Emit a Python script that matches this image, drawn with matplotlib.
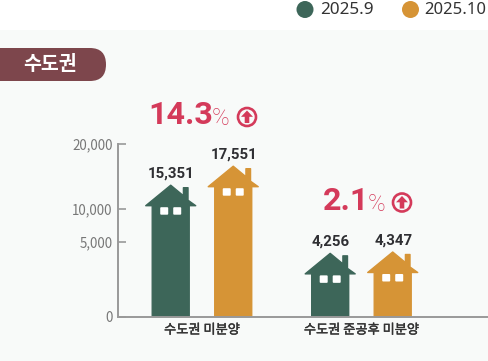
import numpy as np
import matplotlib
matplotlib.use('Agg')
import matplotlib.pyplot as plt
import matplotlib.patheffects as pe
from matplotlib.patches import Circle, FancyBboxPatch, Polygon, Rectangle, PathPatch
from matplotlib.path import Path

categories = ['수도권 미분양', '수도권 준공후 미분양']
series_names = ['2025.9', '2025.10']
values_sep = [15351, 4256]
values_oct = [17551, 4347]
changes = ['14.3', '2.1']
yticks = [0, 5000, 10000, 20000]
# the axis in the picture is not linear, these are its breaks (value -> px above 0)
scale_values = [0, 5000, 10000, 15351, 17551, 20000]
scale_px = [0, 75, 108, 132, 151, 172.5]

GREEN = '#3d6659'
ORANGE = '#d69436'
RED = '#d43a5a'
BG = '#f8faf9'
KR = ['Noto Sans CJK KR', 'DejaVu Sans']

W, H = 488, 361
fig = plt.figure(figsize=(W / 100, H / 100), dpi=100, facecolor='white')

# overlay in pixel coordinates for the decoration
bg = fig.add_axes([0, 0, 1, 1])
bg.set_xlim(0, W)
bg.set_ylim(H, 0)
bg.axis('off')
bg.add_patch(Rectangle((0, 30), W, H - 30, fc=BG, ec='none'))

# chart axes
ax = fig.add_axes([118.3 / W, 1 - 316.7 / H, (W - 118.3) / W, 172.5 / H])
ax.patch.set_alpha(0)
ax.set_yscale('function', functions=(lambda v: np.interp(v, scale_values, scale_px),
                                     lambda p: np.interp(p, scale_px, scale_values)))
ax.set_ylim(0, 20000)
ax.set_xlim(-0.5247, 1.7935)
ax.set_yticks(yticks)
ax.set_yticklabels([f'{t:,}' for t in yticks], family=KR, fontsize=9.6, color='#777777')
ax.minorticks_off()
ax.set_xticks([0, 1])
ax.set_xticklabels(categories, family=KR, fontsize=9.5, color='#333333',
                   path_effects=[pe.withStroke(linewidth=0.3, foreground='#333333')])
ax.tick_params(axis='y', direction='in', length=6, width=1.2, color='#999999', pad=4)
ax.tick_params(axis='x', length=0, pad=5)
for s in ['top', 'right']:
    ax.spines[s].set_visible(False)
for s in ['left', 'bottom']:
    ax.spines[s].set_color('#999999')
    ax.spines[s].set_linewidth(1.4)


def to_px(x, v):
    return bg.transData.inverted().transform(ax.transData.transform((x, v)))


def house(x, value, color):
    cx, top = to_px(x, value)
    _, base = to_px(x, 0)
    eave = top + 21
    pts = [(cx - 18.5, base), (cx - 18.5, eave), (cx - 25, eave), (cx, top + 0.5),
           (cx + 12.7, top + 11), (cx + 12.7, top + 3), (cx + 17.3, top + 3),
           (cx + 17.3, top + 15.5), (cx + 25, eave), (cx + 18.5, eave), (cx + 18.5, base)]
    bg.add_patch(Polygon(pts, closed=True, fc=color, ec=color, lw=1, joinstyle='round', zorder=3))
    for dx in (-6.5, 6.5):
        bg.add_patch(FancyBboxPatch((cx + dx - 3, top + 23.5), 6, 5.5,
                                    boxstyle='round,pad=1', fc='white', ec='none', zorder=4))
    bg.text(cx + 0.5, top - 7, f'{value:,}', family='Roboto', fontweight='bold', fontsize=10.8,
            color='#2f2f33', ha='center', va='baseline', zorder=5)


offset = 0.196
for i in range(len(categories)):
    house(i - offset, values_sep[i], GREEN)
    house(i + offset, values_oct[i], ORANGE)


def up_mark(cx, cy):
    bg.add_patch(Circle((cx, cy), 9, fc='none', ec=RED, lw=1.9, zorder=5))
    pts = [(cx, cy - 6.5), (cx + 6, cy - 0.2), (cx + 2.3, cy - 0.2), (cx + 2.3, cy + 6),
           (cx - 2.3, cy + 6), (cx - 2.3, cy - 0.2), (cx - 6, cy - 0.2)]
    bg.add_patch(Polygon(pts, closed=True, fc=RED, ec='none', zorder=5))


# change labels
bg.text(148.5, 124.5, changes[0], family='Roboto', fontweight='bold', fontsize=23.2, color=RED, va='baseline')
bg.text(212, 125, '%', family='Roboto', fontweight='light', fontsize=17, color=RED, va='baseline')
up_mark(247, 117)
bg.text(322.5, 210, changes[1], family='Roboto', fontweight='bold', fontsize=23.2, color=RED, va='baseline')
bg.text(367.5, 211, '%', family='Roboto', fontweight='light', fontsize=17, color=RED, va='baseline')
up_mark(402, 202.5)

# legend
bg.add_patch(Circle((305, 9.5), 8.5, fc=GREEN, ec='none'))
bg.text(320, 9.5, series_names[0], family='Noto Sans', fontweight='light', fontsize=12.3, color='#333333', va='center')
bg.add_patch(Circle((410.5, 9.5), 8.5, fc=ORANGE, ec='none'))
bg.text(424, 9.5, series_names[1], family='Noto Sans', fontweight='light', fontsize=12, color='#333333', va='center')

# region badge
verts = [(0, 48), (90, 48), (106, 48), (106, 64.5), (106, 81), (90, 81), (0, 81), (0, 48)]
codes = [Path.MOVETO, Path.LINETO, Path.CURVE3, Path.CURVE3, Path.CURVE3, Path.CURVE3, Path.LINETO, Path.CLOSEPOLY]
bg.add_patch(PathPatch(Path(verts, codes), fc='#7d464c', ec='none'))
bg.text(50, 64.5, '수도권', family=KR, fontweight='bold', fontsize=14, color='white', ha='center', va='center')

fig.savefig('out.png', dpi=100, facecolor='white')
